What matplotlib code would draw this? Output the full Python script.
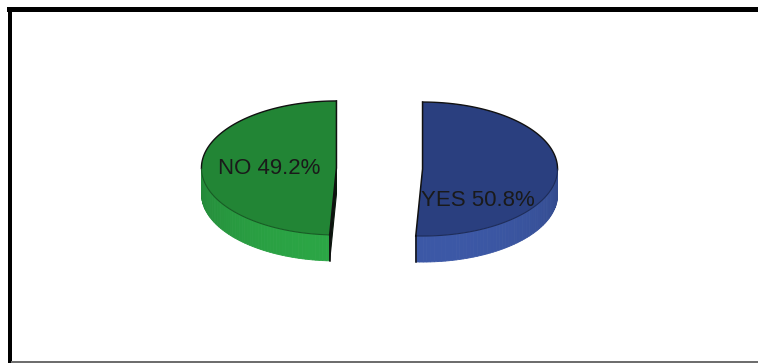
import numpy as np
import matplotlib
matplotlib.use("Agg")
import matplotlib.pyplot as plt
from matplotlib.patches import Polygon, Rectangle

# Survey answers
labels = ["YES", "NO"]
shares = [50.8, 49.2]

top_colors = ["#2a3f7f", "#228535"]
side_colors = ["#3c58a6", "#2ba645"]

W, H = 758, 363
fig = plt.figure(figsize=(W / 100, H / 100), dpi=100)
ax = fig.add_axes([0, 0, 1, 1])
ax.set_xlim(0, W)
ax.set_ylim(H, 0)
ax.axis("off")

# Pie geometry in pixel space (tilted disc)
cx, cy = 379.5, 168.5
rx, ry = 135.0, 67.0
depth = 26.0
explode = 0.319
start = 90.0  # degrees, slices run clockwise from the top


def rim(xc, yc, ang_deg, dz=0.0):
    t = np.radians(ang_deg)
    return xc + rx * np.cos(t), yc - ry * np.sin(t) + dz


def shade(ang_deg):
    return 0.82 + 0.18 * np.cos(np.radians(ang_deg - 275.0))


def rgb(hexstr):
    return np.array(matplotlib.colors.to_rgb(hexstr))


total = sum(shares)
label_nudge = {"YES": (-12, 31), "NO": (0, 1)}

a_end = start
for lab, val, tc, sc in zip(labels, shares, top_colors, side_colors):
    sweep = 360.0 * val / total
    a_hi = a_end
    a_lo = a_end - sweep
    a_end = a_lo
    mid = (a_hi + a_lo) / 2.0
    xc = cx + explode * rx * np.cos(np.radians(mid))
    yc = cy - explode * ry * np.sin(np.radians(mid))

    # visible front wall: angles whose rim lies on the near half
    lo_n = a_lo % 360.0
    hi_n = lo_n + sweep
    f0 = max(lo_n, 180.0)
    f1 = min(hi_n, 360.0)
    if f0 < f1:
        steps = np.linspace(f0, f1, 60)
        base = rgb(sc)
        for s0, s1 in zip(steps[:-1], steps[1:]):
            xa, ya = rim(xc, yc, s0)
            xb, yb = rim(xc, yc, s1)
            col = np.clip(base * shade((s0 + s1) / 2), 0, 1)
            ax.add_patch(Polygon([(xa, ya), (xb, yb), (xb, yb + depth), (xa, ya + depth)],
                                 closed=True, facecolor=col, edgecolor=col, lw=0.6))

    # cut face turned slightly toward the viewer
    for edge_ang, normal in ((a_lo, a_lo - 90.0), (a_hi, a_hi + 90.0)):
        if np.sin(np.radians(normal)) < 0:
            xr, yr = rim(xc, yc, edge_ang)
            ax.add_patch(Polygon([(xc, yc), (xr, yr), (xr, yr + depth), (xc, yc + depth)],
                                 closed=True, facecolor="#0b160d", edgecolor="#0b160d", lw=0.8))

    # top face
    angs = np.linspace(a_lo, a_hi, 200)
    pts = [rim(xc, yc, a) for a in angs]
    poly = [(xc, yc)] + pts
    ax.add_patch(Polygon(poly, closed=True, facecolor=tc, edgecolor="none"))
    # back rim outline
    back = [p for a, p in zip(angs, pts) if np.sin(np.radians(a)) >= -0.02]
    if back:
        bx, by = zip(*back)
        ax.plot(bx, by, color="#111111", lw=1.0, solid_capstyle="round")
    front = [p for a, p in zip(angs, pts) if np.sin(np.radians(a)) < 0]
    if front:
        fx, fy = zip(*front)
        ax.plot(fx, fy, color=np.clip(rgb(tc) * 0.65, 0, 1), lw=0.8, alpha=0.9)
    # straight edges
    x1, y1 = rim(xc, yc, a_lo)
    x2, y2 = rim(xc, yc, a_hi)
    ax.plot([x2, xc, x1], [y2, yc, y1], color="#111111", lw=1.1)
    # vertical edge where the cut meets the front wall
    for ea in (a_lo, a_hi):
        if np.sin(np.radians(ea)) < 0:
            ex, ey = rim(xc, yc, ea)
            ax.plot([ex, ex], [ey, ey + depth], color="#111111", lw=1.1)

    # label
    lx = xc + 0.5 * rx * np.cos(np.radians(mid))
    ly = yc - 0.5 * ry * np.sin(np.radians(mid))
    dx, dy = label_nudge[lab]
    ax.text(lx + dx, ly + dy, f"{lab} {val:.1f}%", ha="center", va="center",
            fontsize=16, family="Liberation Sans", color="#1a1a1a")

# frame
ax.add_patch(Rectangle((7, 7), W - 7, 4.5, facecolor="black", edgecolor="none"))
ax.add_patch(Rectangle((7.5, 7), 4, H - 7, facecolor="black", edgecolor="none"))
ax.add_patch(Rectangle((11, 361), W - 11, 1.6, facecolor="#6e6e6e", edgecolor="none"))

fig.savefig("out.png", dpi=100, facecolor="white")
